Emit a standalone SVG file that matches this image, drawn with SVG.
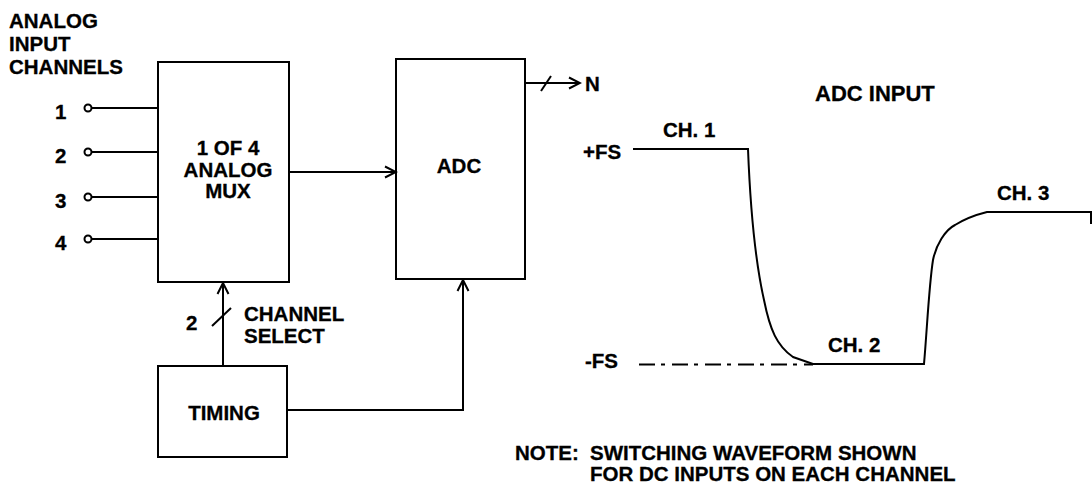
<svg xmlns="http://www.w3.org/2000/svg" width="1092" height="487" viewBox="0 0 1092 487">
<style>
text{font-family:"Liberation Sans",Arial,sans-serif;font-weight:bold;font-size:20.5px;fill:#000;stroke:#000;stroke-width:0.3}
.box{fill:#fff;stroke:#000;stroke-width:2}
.ln{fill:none;stroke:#000;stroke-width:2}
.mid{text-anchor:middle}
</style>
<defs>
<marker id="arr" markerUnits="userSpaceOnUse" markerWidth="14" markerHeight="14" viewBox="0 0 14 14" refX="12" refY="7" orient="auto">
<path d="M1,1.5 L12,7 L1,12.5" fill="none" stroke="#000" stroke-width="2"/>
</marker>
</defs>
<rect width="1092" height="487" fill="#fff"/>
<g id="title-inputs">
<text x="9" y="28">ANALOG</text>
<text x="9" y="51">INPUT</text>
<text x="9" y="74">CHANNELS</text>
</g>
<g id="inputs">
<g id="in1"><text x="55" y="119">1</text><circle cx="88" cy="108" r="3.5" class="ln"/><line x1="91.5" y1="108" x2="158" y2="108" class="ln"/></g>
<g id="in2"><text x="55" y="163">2</text><circle cx="88" cy="152" r="3.5" class="ln"/><line x1="91.5" y1="152" x2="158" y2="152" class="ln"/></g>
<g id="in3"><text x="55" y="208">3</text><circle cx="88" cy="197" r="3.5" class="ln"/><line x1="91.5" y1="197" x2="158" y2="197" class="ln"/></g>
<g id="in4"><text x="55" y="250">4</text><circle cx="88" cy="239" r="3.5" class="ln"/><line x1="91.5" y1="239" x2="158" y2="239" class="ln"/></g>
</g>
<g id="mux">
<rect x="158" y="62" width="131" height="220" class="box"/>
<text x="228" y="155" class="mid">1 OF 4</text>
<text x="228" y="177" class="mid">ANALOG</text>
<text x="228" y="198" class="mid">MUX</text>
</g>
<g id="adc">
<rect x="396" y="59" width="129" height="220" class="box"/>
<text x="459" y="173" class="mid">ADC</text>
</g>
<g id="timing">
<rect x="158" y="366" width="129" height="91" class="box"/>
<text x="224" y="420" class="mid">TIMING</text>
</g>
<g id="connectors">
<line x1="289" y1="172" x2="396" y2="172" class="ln" marker-end="url(#arr)"/>
<line x1="525" y1="83" x2="580" y2="83" class="ln" marker-end="url(#arr)"/>
<line x1="541" y1="91" x2="551" y2="76" class="ln"/>
<line x1="223" y1="366" x2="223" y2="283" class="ln" marker-end="url(#arr)"/>
<line x1="212" y1="326" x2="231" y2="308" class="ln"/>
<polyline points="287,410 463,410 463,280" class="ln" marker-end="url(#arr)"/>
</g>
<g id="labels">
<text x="585" y="91">N</text>
<text x="186" y="330">2</text>
<text x="244" y="321">CHANNEL</text>
<text x="244" y="343">SELECT</text>
</g>
<g id="waveform">
<text x="815" y="101" style="font-size:22px">ADC INPUT</text>
<text x="583" y="159">+FS</text>
<text x="585" y="368">-FS</text>
<text x="663" y="137">CH. 1</text>
<text x="828" y="352">CH. 2</text>
<text x="997" y="200">CH. 3</text>
<line x1="639" y1="364.5" x2="813" y2="364.5" class="ln" stroke-dasharray="16 6 4 7"/>
<path d="M633,149 H748 C750,200 755,260 764,300 C770,330 777,346 793,357 L813,364 H924 C927,330 929,285 933,260 C936,245 945,230 955,225 C963,220 975,215 987,212 H1091 V224" class="ln"/>
</g>
<g id="note">
<text x="515" y="460">NOTE:</text>
<text x="590" y="460">SWITCHING WAVEFORM SHOWN</text>
<text x="590" y="481">FOR DC INPUTS ON EACH CHANNEL</text>
</g>
</svg>
